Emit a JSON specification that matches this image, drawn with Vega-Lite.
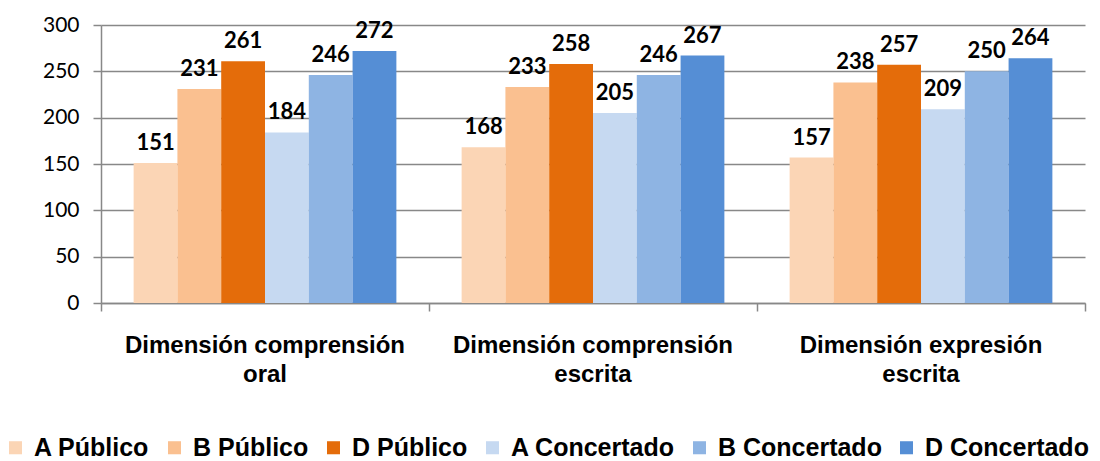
{
  "$schema": "https://vega.github.io/schema/vega-lite/v6.json",
  "width": 984,
  "height": 278,
  "autosize": "none",
  "padding": {"left": 101, "top": 25, "right": 15, "bottom": 158},
  "background": "white",
  "data": {
    "values": [
      {"dim": "Dimensión comprensión oral", "serie": "A Público", "valor": 151},
      {"dim": "Dimensión comprensión oral", "serie": "B Público", "valor": 231},
      {"dim": "Dimensión comprensión oral", "serie": "D Público", "valor": 261},
      {"dim": "Dimensión comprensión oral", "serie": "A Concertado", "valor": 184},
      {"dim": "Dimensión comprensión oral", "serie": "B Concertado", "valor": 246},
      {"dim": "Dimensión comprensión oral", "serie": "D Concertado", "valor": 272},
      {"dim": "Dimensión comprensión escrita", "serie": "A Público", "valor": 168},
      {"dim": "Dimensión comprensión escrita", "serie": "B Público", "valor": 233},
      {"dim": "Dimensión comprensión escrita", "serie": "D Público", "valor": 258},
      {"dim": "Dimensión comprensión escrita", "serie": "A Concertado", "valor": 205},
      {"dim": "Dimensión comprensión escrita", "serie": "B Concertado", "valor": 246},
      {"dim": "Dimensión comprensión escrita", "serie": "D Concertado", "valor": 267},
      {"dim": "Dimensión expresión escrita", "serie": "A Público", "valor": 157},
      {"dim": "Dimensión expresión escrita", "serie": "B Público", "valor": 238},
      {"dim": "Dimensión expresión escrita", "serie": "D Público", "valor": 257},
      {"dim": "Dimensión expresión escrita", "serie": "A Concertado", "valor": 209},
      {"dim": "Dimensión expresión escrita", "serie": "B Concertado", "valor": 250},
      {"dim": "Dimensión expresión escrita", "serie": "D Concertado", "valor": 264}
    ]
  },
  "encoding": {
    "xOffset": {
      "field": "serie",
      "type": "nominal",
      "sort": ["A Público", "B Público", "D Público", "A Concertado", "B Concertado", "D Concertado"],
      "scale": {"paddingInner": 0, "paddingOuter": 0.745}
    },
    "y": {
      "field": "valor",
      "type": "quantitative",
      "scale": {"domain": [0, 300], "nice": false},
      "axis": {
        "title": null,
        "values": [0, 50, 100, 150, 200, 250, 300],
        "labelFont": "Lato",
        "labelFontSize": 21,
        "labelColor": "#000000",
        "labelPadding": 14,
        "tickSize": 8,
        "tickColor": "#888888",
        "tickWidth": 1.5,
        "domainColor": "#888888",
        "domainWidth": 1.5,
        "grid": true,
        "gridColor": "#888888",
        "gridWidth": 1.5
      }
    }
  },
  "layer": [
    {
      "mark": {"type": "bar"},
      "encoding": {
        "x": {
          "field": "dim",
          "type": "nominal",
          "sort": null,
          "scale": {"paddingInner": 0, "paddingOuter": 0},
          "axis": {
            "title": null,
            "orient": "bottom",
            "labels": false,
            "tickBand": "extent",
            "tickSize": 8,
            "tickColor": "#888888",
            "tickWidth": 1.5,
            "domainColor": "#888888",
            "domainWidth": 1.5,
            "grid": false
          }
        },
        "color": {
          "field": "serie",
          "type": "nominal",
          "sort": ["A Público", "B Público", "D Público", "A Concertado", "B Concertado", "D Concertado"],
          "scale": {
            "domain": ["A Público", "B Público", "D Público", "A Concertado", "B Concertado", "D Concertado"],
            "range": ["#FBD5B5", "#FAC090", "#E46C0A", "#C6D9F1", "#8EB4E3", "#558ED5"]
          },
          "legend": {
            "title": null,
            "orient": "none",
            "legendX": -98,
            "legendY": 410,
            "direction": "horizontal",
            "symbolType": "square",
            "symbolSize": 170,
            "symbolStrokeWidth": 0,
            "labelFont": "Liberation Sans",
            "labelFontWeight": "bold",
            "labelFontSize": 25,
            "labelColor": "#000000",
            "labelOffset": 6,
            "columnPadding": 12,
            "labelLimit": 400
          }
        }
      }
    },
    {
      "mark": {
        "type": "text",
        "baseline": "alphabetic",
        "dy": -13,
        "font": "Lato",
        "fontWeight": "bold",
        "fontSize": 22,
        "color": "#000000"
      },
      "encoding": {
        "x": {
          "field": "dim",
          "type": "nominal",
          "sort": null,
          "axis": {
            "title": null,
            "orient": "bottom",
            "labelAngle": 0,
            "labelFont": "Liberation Sans",
            "labelFontWeight": "bold",
            "labelFontSize": 24,
            "labelColor": "#000000",
            "labelLineHeight": 29,
            "labelPadding": 30,
            "labelLimit": 500,
            "labelExpr": "datum.value == 'Dimensión comprensión oral' ? ['Dimensión comprensión', 'oral'] : datum.value == 'Dimensión comprensión escrita' ? ['Dimensión comprensión', 'escrita'] : ['Dimensión expresión', 'escrita']",
            "ticks": false,
            "domain": false,
            "grid": false
          }
        },
        "text": {"field": "valor", "type": "quantitative"}
      }
    }
  ],
  "resolve": {"axis": {"x": "independent"}},
  "config": {
    "view": {"stroke": null}
  }
}
